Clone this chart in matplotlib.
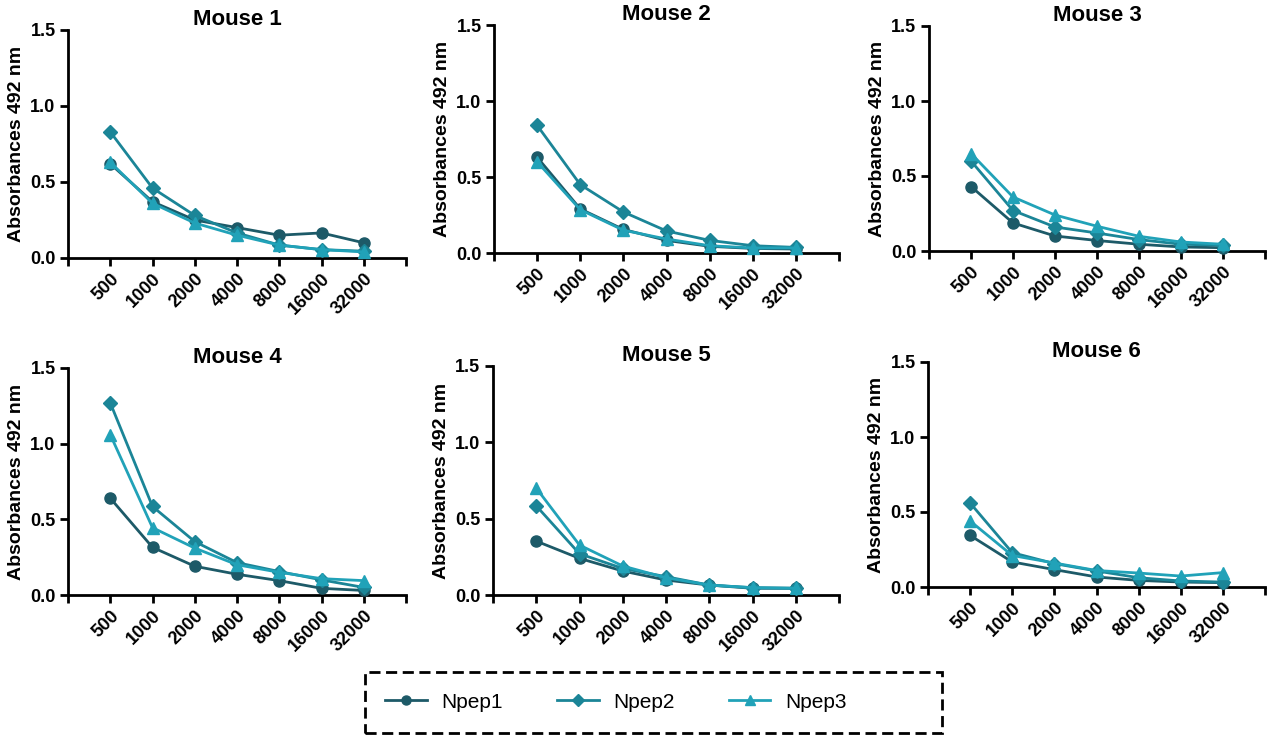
import matplotlib.pyplot as plt
from matplotlib.lines import Line2D
from matplotlib.patches import Rectangle

plt.rcParams['font.family'] = ['Liberation Sans', 'DejaVu Sans']

dilutions = ["500", "1000", "2000", "4000", "8000", "16000", "32000"]
series_names = ["Npep1", "Npep2", "Npep3"]
titles = ["Mouse 1", "Mouse 2", "Mouse 3", "Mouse 4", "Mouse 5", "Mouse 6"]

# absorbance at 492 nm, one list per mouse, per peptide
mouse1_npep1 = [0.62, 0.37, 0.25, 0.20, 0.15, 0.165, 0.10]
mouse1_npep2 = [0.83, 0.46, 0.28, 0.165, 0.085, 0.055, 0.045]
mouse1_npep3 = [0.63, 0.36, 0.23, 0.15, 0.085, 0.055, 0.04]

mouse2_npep1 = [0.63, 0.29, 0.155, 0.083, 0.044, 0.03, 0.026]
mouse2_npep2 = [0.84, 0.45, 0.27, 0.145, 0.083, 0.048, 0.037]
mouse2_npep3 = [0.60, 0.285, 0.15, 0.092, 0.048, 0.033, 0.033]

mouse3_npep1 = [0.43, 0.187, 0.10, 0.07, 0.045, 0.027, 0.022]
mouse3_npep2 = [0.60, 0.27, 0.16, 0.12, 0.076, 0.045, 0.038]
mouse3_npep3 = [0.65, 0.36, 0.24, 0.165, 0.098, 0.06, 0.045]

mouse4_npep1 = [0.64, 0.315, 0.19, 0.137, 0.095, 0.044, 0.03]
mouse4_npep2 = [1.27, 0.585, 0.353, 0.214, 0.155, 0.10, 0.05]
mouse4_npep3 = [1.06, 0.445, 0.31, 0.20, 0.15, 0.108, 0.095]

mouse5_npep1 = [0.353, 0.24, 0.157, 0.098, 0.065, 0.044, 0.044]
mouse5_npep2 = [0.584, 0.27, 0.174, 0.12, 0.065, 0.048, 0.044]
mouse5_npep3 = [0.70, 0.327, 0.19, 0.113, 0.065, 0.048, 0.044]

mouse6_npep1 = [0.344, 0.167, 0.116, 0.067, 0.044, 0.033, 0.029]
mouse6_npep2 = [0.56, 0.229, 0.156, 0.107, 0.062, 0.04, 0.033]
mouse6_npep3 = [0.44, 0.21, 0.16, 0.11, 0.093, 0.073, 0.096]

mice = [
    (mouse1_npep1, mouse1_npep2, mouse1_npep3),
    (mouse2_npep1, mouse2_npep2, mouse2_npep3),
    (mouse3_npep1, mouse3_npep2, mouse3_npep3),
    (mouse4_npep1, mouse4_npep2, mouse4_npep3),
    (mouse5_npep1, mouse5_npep2, mouse5_npep3),
    (mouse6_npep1, mouse6_npep2, mouse6_npep3),
]

colors = ["#1d5a68", "#1b8597", "#21a2b8"]
markers = ["o", "D", "^"]
msizes = [8, 7.5, 8.5]

W, H = 1267, 735
# axes rects in pixels: left, top(y of 1.5), right, bottom(y of 0)
rects = [
    (68, 30, 406, 258), (494, 25, 839, 253), (929, 26, 1265, 251),
    (68, 368, 406, 595), (493, 366, 839, 595), (928, 362, 1265, 587),
]

fig = plt.figure(figsize=(W / 100, H / 100), dpi=100)
x = list(range(len(dilutions)))

for i, (l, t, r, b) in enumerate(rects):
    ax = fig.add_axes([l / W, 1 - b / H, (r - l) / W, (b - t) / H])
    for k, vals in enumerate(mice[i]):
        ax.plot(x, vals, color=colors[k], marker=markers[k], ms=msizes[k],
                lw=2, clip_on=False, zorder=3 + k)
    ax.set_xlim(-1, 7)
    ax.set_ylim(0, 1.5)
    ax.set_yticks([0, 0.5, 1.0, 1.5])
    ax.set_yticklabels(["0.0", "0.5", "1.0", "1.5"], fontsize=13, fontweight="bold")
    ax.set_xticks(x)
    ax.set_xticklabels(dilutions, rotation=45, ha="right", rotation_mode="anchor",
                       fontsize=13, fontweight="bold")
    ax.set_xticks([-1, 7], minor=True)
    ax.tick_params(axis="both", which="both", direction="out", length=6, width=2, pad=3)
    ax.spines["top"].set_visible(False)
    ax.spines["right"].set_visible(False)
    ax.spines["left"].set_linewidth(2)
    ax.spines["bottom"].set_linewidth(2)
    ax.set_ylabel("Absorbances 492 nm", fontsize=14, fontweight="bold", labelpad=4)
    ax.set_title(titles[i], fontsize=16, fontweight="bold", pad=-1)

# legend entries without frame, dashed box drawn separately (box is wider than content)
handles = [Line2D([0], [0], color=colors[k], marker=markers[k], ms=6.5, lw=2)
           for k in range(3)]
fig.legend(handles, series_names, loc="center left", bbox_to_anchor=(385 / W, 1 - 702 / H),
           ncol=3, fontsize=15, frameon=False, handlelength=2.0, columnspacing=2.6,
           borderpad=0, borderaxespad=0, handletextpad=0.7)
fig.patches.append(Rectangle((365 / W, 1 - 733 / H), 577 / W, 61 / H,
                             transform=fig.transFigure, fill=False, edgecolor="black",
                             lw=2, ls=(0, (4, 2))))

fig.savefig("out.png", dpi=100)
